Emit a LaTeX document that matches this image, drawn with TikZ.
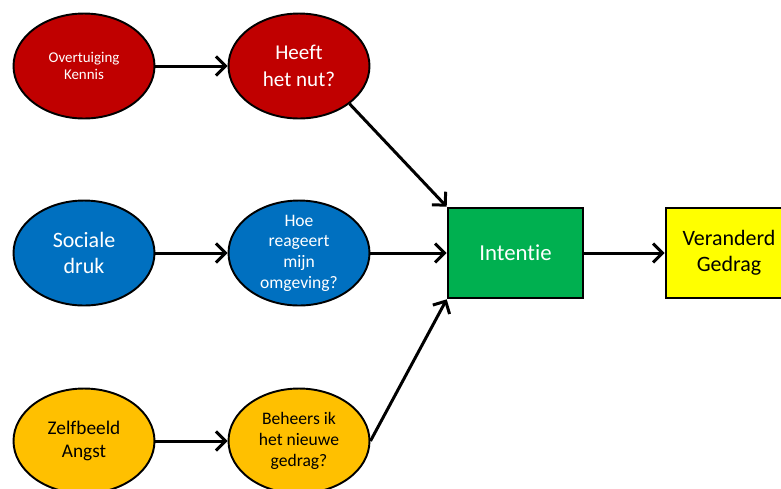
\documentclass[tikz,border=0pt]{standalone}
\usepackage{fontspec}
\setmainfont{Carlito}[Ligatures=NoCommon]
\usetikzlibrary{shapes.geometric,arrows.meta}

\definecolor{rood}{HTML}{C00000}
\definecolor{blauw}{HTML}{0070C0}
\definecolor{oranje}{HTML}{FFC000}
\definecolor{groen}{HTML}{00B050}
\definecolor{geel}{HTML}{FFFF00}

\begin{document}
\begin{tikzpicture}[x=0.02cm,y=-0.02cm,
    bol/.style={ellipse,draw=black,line width=1.1pt,minimum width=2.82cm,minimum height=2.1cm,inner sep=-6pt,align=center},
    blok/.style={rectangle,draw=black,line width=1.5pt,minimum height=1.8cm,inner sep=0pt,align=center},
    pijl/.style={-{Straight Barb[length=1.9mm,width=3.8mm]},line width=1.7pt}]
            \clip (0,0) rectangle (781,488);

            % Bovenste rij
            \node[bol,fill=rood,text=white,font=\fontsize{8.5}{10}\selectfont] (overtuiging) at (84,66) {Overtuiging\\Kennis};
            \node[bol,fill=rood,text=white,font=\fontsize{12}{15}\selectfont] (nut) at (299,66) {Heeft\\het nut?};

            % Middelste rij
            \node[bol,fill=blauw,text=white,font=\fontsize{12.5}{15}\selectfont] (sociaal) at (84,253) {Sociale\\druk};
            \node[bol,fill=blauw,text=white,font=\fontsize{10}{11.8}\selectfont] (omgeving) at (299,253) {Hoe\\reageert\\mijn\\omgeving?};

            % Onderste rij
            \node[bol,fill=oranje,font=\fontsize{11}{13.5}\selectfont] (zelfbeeld) at (84,441) {Zelfbeeld\\Angst};
            \node[bol,fill=oranje,font=\fontsize{10}{12}\selectfont] (beheers) at (299,441) {Beheers ik\\het nieuwe\\gedrag?};

            % Intentie en gedrag
            \node[blok,fill=groen,text=white,minimum width=2.7cm,font=\fontsize{13}{15}\selectfont] (intentie) at (515.5,253) {Intentie};
            \node[blok,fill=geel,minimum width=2.52cm,font=\fontsize{12.5}{15}\selectfont] (gedrag) at (729,253) {Veranderd\\Gedrag};

            % Pijlen
            \draw[pijl] (overtuiging) -- (nut);
            \draw[pijl] (sociaal) -- (omgeving);
            \draw[pijl] (zelfbeeld) -- (beheers);
            \draw[pijl] (nut.south east) -- (intentie.north west);
            \draw[pijl] (omgeving) -- (intentie);
            \draw[pijl] (beheers.east) -- (intentie.south west);
            \draw[pijl] (intentie) -- (gedrag);
        \end{tikzpicture}
\end{document}
